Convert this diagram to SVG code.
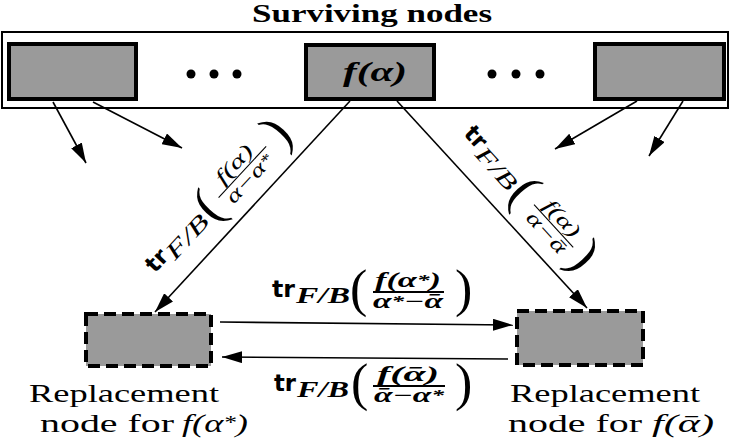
<svg xmlns="http://www.w3.org/2000/svg" width="732" height="446" viewBox="0 0 732 446">
<defs>
<style>
.node{fill:#9a9a9a;stroke:#000;stroke-width:4}
.rep{fill:#9a9a9a;stroke:#000;stroke-width:4;stroke-dasharray:12 6}
.conn line{stroke:#000;stroke-width:1.6;marker-end:url(#ah)}
.tr{font-family:"DejaVu Sans",sans-serif;font-weight:bold;font-size:23px}
.m{font-family:"Liberation Serif","DejaVu Serif",serif;font-style:italic}
.b{font-weight:bold}
.par{font-family:"Liberation Serif",serif;font-size:52px}
.lbl{font-family:"Liberation Serif",serif;font-size:25px}
.ttl{font-family:"Liberation Serif",serif;font-size:26px;font-weight:bold}
.bar{stroke:#000;stroke-width:1.8}
.thin{stroke:#000;stroke-width:1.1}
</style>
<marker id="ah" markerUnits="userSpaceOnUse" markerWidth="20" markerHeight="12" refX="20" refY="6" orient="auto"><path d="M0,0 L20,6 L0,12 z" fill="#000"/></marker>
</defs>
<rect width="732" height="446" fill="#fff"/>

<g id="surviving">
<text class="ttl" x="372" y="22" text-anchor="middle" textLength="240" lengthAdjust="spacingAndGlyphs">Surviving nodes</text>
<rect x="2" y="32" width="726" height="76" fill="#fff" stroke="#000" stroke-width="2"/>
</g>

<g class="conn" id="connectors">
<line x1="53" y1="102" x2="86" y2="163"/>
<line x1="93" y1="102" x2="182" y2="148"/>
<line x1="637" y1="101" x2="555" y2="149"/>
<line x1="683" y1="101" x2="649" y2="156"/>
<line x1="350" y1="101" x2="155" y2="312"/>
<line x1="397" y1="101" x2="587" y2="308"/>
<line x1="220" y1="322" x2="513" y2="325"/>
<line x1="508" y1="359" x2="222" y2="357"/>
</g>

<g id="node-left"><rect class="node" x="9" y="44" width="127" height="55"/></g>
<g id="dots-left"><circle cx="191" cy="74" r="4.5"/><circle cx="214" cy="74" r="4.5"/><circle cx="237" cy="74" r="4.5"/></g>
<g id="node-center"><rect class="node" x="306" y="45" width="128" height="54"/>
<text class="m b" x="375" y="81" font-size="28" text-anchor="middle" textLength="64" lengthAdjust="spacingAndGlyphs">f(α)</text></g>
<g id="dots-right"><circle cx="492" cy="74" r="4.5"/><circle cx="516" cy="74" r="4.5"/><circle cx="540" cy="74" r="4.5"/></g>
<g id="node-right"><rect class="node" x="595" y="44" width="129" height="55"/></g>

<g id="replacement-alpha-star">
<rect class="rep" x="86" y="314" width="125" height="52"/>
<text class="lbl" x="29" y="402" textLength="190" lengthAdjust="spacingAndGlyphs">Replacement</text>
<text class="lbl" x="40" y="432" textLength="134" lengthAdjust="spacingAndGlyphs">node for</text>
<text class="m" x="182" y="432" font-size="26" textLength="66" lengthAdjust="spacingAndGlyphs">f(α<tspan font-size="18" dy="-3">*</tspan><tspan dy="3">)</tspan></text>
</g>

<g id="replacement-alpha-bar">
<rect class="rep" x="517" y="311" width="126" height="54"/>
<text class="lbl" x="510" y="402" textLength="190" lengthAdjust="spacingAndGlyphs">Replacement</text>
<text class="lbl" x="508" y="432" textLength="134" lengthAdjust="spacingAndGlyphs">node for</text>
<text class="m" x="652" y="432" font-size="26" textLength="62" lengthAdjust="spacingAndGlyphs">f(ᾱ)</text>
</g>

<g id="label-top" transform="translate(272,297)">
<text class="tr" x="0" y="0" textLength="23" lengthAdjust="spacingAndGlyphs">tr</text>
<text class="m b" x="24" y="6" font-size="23" textLength="54" lengthAdjust="spacingAndGlyphs">F/B</text>
<text class="par" x="78" y="9">(</text>
<text class="m b" x="136" y="-10" font-size="20" text-anchor="middle" textLength="66" lengthAdjust="spacingAndGlyphs">f(α<tspan font-size="15" dy="-2">*</tspan><tspan dy="2">)</tspan></text>
<line class="bar" x1="101" y1="-5" x2="172" y2="-5"/>
<text class="m b" x="136" y="11" font-size="20" text-anchor="middle" textLength="70" lengthAdjust="spacingAndGlyphs">α<tspan font-size="15" dy="-2">*</tspan><tspan dy="2">−ᾱ</tspan></text>
<text class="par" x="183" y="9">)</text>
</g>

<g id="label-bottom" transform="translate(274,391)">
<text class="tr" x="0" y="0" textLength="22" lengthAdjust="spacingAndGlyphs">tr</text>
<text class="m b" x="23" y="6" font-size="23" textLength="52" lengthAdjust="spacingAndGlyphs">F/B</text>
<text class="par" x="77" y="9">(</text>
<text class="m b" x="134" y="-10" font-size="20" text-anchor="middle" textLength="62" lengthAdjust="spacingAndGlyphs">f(ᾱ)</text>
<line class="bar" x1="99" y1="-5" x2="171" y2="-5"/>
<text class="m b" x="135" y="11" font-size="20" text-anchor="middle" textLength="70" lengthAdjust="spacingAndGlyphs">ᾱ−α<tspan font-size="15" dy="-2">*</tspan></text>
<text class="par" x="181" y="9">)</text>
</g>

<g id="label-left-diag" transform="translate(155,273.7) rotate(-47.2)">
<text class="tr" x="0" y="0" textLength="22" lengthAdjust="spacingAndGlyphs">tr</text>
<text class="m" x="23" y="6" font-size="23" textLength="52" lengthAdjust="spacingAndGlyphs">F/B</text>
<text class="par" x="77" y="9">(</text>
<text class="m" x="134" y="-10" font-size="20" text-anchor="middle" textLength="46" lengthAdjust="spacingAndGlyphs">f(α)</text>
<line class="thin" x1="99" y1="-5" x2="169" y2="-5"/>
<text class="m" x="134" y="11" font-size="20" text-anchor="middle" textLength="60" lengthAdjust="spacingAndGlyphs">α−α<tspan font-size="15" dy="-2">*</tspan></text>
<text class="par" x="178" y="9">)</text>
</g>

<g id="label-right-diag" transform="translate(462.8,134.3) rotate(47.5)">
<text class="tr" x="0" y="0" textLength="22" lengthAdjust="spacingAndGlyphs">tr</text>
<text class="m" x="23" y="6" font-size="23" textLength="50" lengthAdjust="spacingAndGlyphs">F/B</text>
<text class="par" x="75" y="9">(</text>
<text class="m" x="129" y="-10" font-size="20" text-anchor="middle" textLength="44" lengthAdjust="spacingAndGlyphs">f(α)</text>
<line class="thin" x1="100" y1="-5" x2="158" y2="-5"/>
<text class="m" x="129" y="11" font-size="20" text-anchor="middle" textLength="50" lengthAdjust="spacingAndGlyphs">α−ᾱ</text>
<text class="par" x="163" y="9">)</text>
</g>
</svg>
